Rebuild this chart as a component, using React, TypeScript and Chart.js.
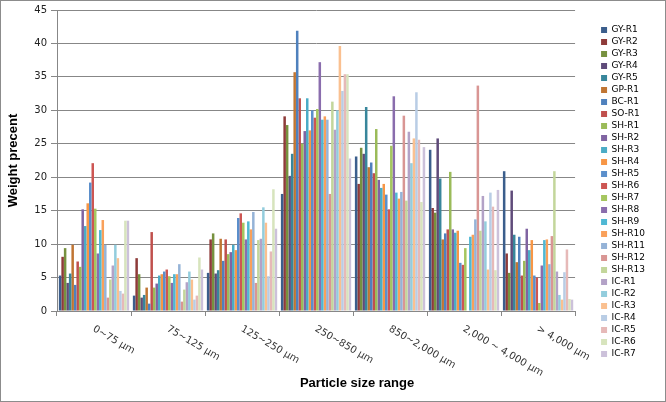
import React, { useEffect, useRef } from "react";
import { Chart, registerables } from "chart.js";

Chart.register(...registerables);

const categories = [
  "0~75 µm",
  "75~125 µm",
  "125~250 µm",
  "250~850 µm",
  "850~2,000 µm",
  "2,000 ~ 4,000 µm",
  "> 4,000 µm",
];

const seriesNames = [
  "GY-R1", "GY-R2", "GY-R3", "GY-R4", "GY-R5", "GP-R1", "BC-R1", "SO-R1",
  "SH-R1", "SH-R2", "SH-R3", "SH-R4", "SH-R5", "SH-R6", "SH-R7", "SH-R8",
  "SH-R9", "SH-R10", "SH-R11", "SH-R12", "SH-R13",
  "IC-R1", "IC-R2", "IC-R3", "IC-R4", "IC-R5", "IC-R6", "IC-R7",
];

const seriesColors = [
  "#3B5E8C", "#8E3B39", "#77913F", "#5F4B7A", "#38869B", "#C07533", "#4F81BD", "#C0504D",
  "#9BBB59", "#8064A2", "#4BACC6", "#F79646", "#5B8FCB", "#CD5653", "#A5C65F", "#8A6DAD",
  "#4FB8D4", "#F9A05A", "#95B3D7", "#D99694", "#C3D69B",
  "#B3A2C7", "#93CDDD", "#FAC090", "#B9CDE5", "#E6B9B8", "#D7E4BD", "#CCC1DA",
];

// Values per series, one per particle size range
const gyR1 = [5.3, 2.3, 5.7, 17.5, 23.1, 24.1, 20.9];
const gyR2 = [8.1, 7.9, 10.7, 29.1, 19.0, 15.4, 8.6];
const gyR3 = [9.4, 5.5, 11.6, 27.8, 24.4, 14.7, 5.7];
const gyR4 = [4.2, 2.0, 5.6, 20.2, 23.5, 25.8, 18.0];
const gyR5 = [5.6, 2.4, 6.1, 23.5, 30.5, 19.8, 11.4];
const gpR1 = [9.9, 3.5, 10.8, 35.7, 21.5, 10.7, 7.3];
const bcR1 = [3.9, 1.1, 7.5, 41.9, 22.2, 11.6, 11.1];
const soR1 = [7.4, 11.8, 10.7, 31.8, 20.6, 12.2, 5.3];
const shR1 = [6.6, 3.5, 8.5, 25.0, 27.2, 20.8, 7.5];
const shR2 = [15.2, 4.1, 8.8, 26.9, 19.6, 12.2, 12.3];
const shR3 = [12.7, 5.3, 9.9, 31.8, 18.4, 11.7, 9.1];
const shR4 = [16.1, 5.5, 9.1, 27.0, 19.0, 12.0, 10.6];
const shR5 = [19.2, 5.9, 13.9, 30.0, 17.4, 7.2, 5.3];
const shR6 = [22.1, 6.2, 14.6, 28.9, 15.2, 6.9, 5.0];
const shR7 = [15.3, 5.2, 13.2, 30.2, 24.7, 9.4, 1.2];
const shR8 = [8.6, 4.2, 10.7, 37.2, 32.1, 0, 6.8];
const shR9 = [12.1, 5.5, 13.4, 28.6, 17.7, 11.1, 10.6];
const shR10 = [13.6, 5.5, 12.2, 29.1, 16.8, 11.4, 10.7];
const shR11 = [9.9, 7.0, 14.8, 28.6, 17.8, 13.7, 7.0];
const shR12 = [2.0, 1.4, 4.2, 17.5, 29.2, 33.7, 11.2];
const shR13 = [4.7, 3.2, 10.6, 31.3, 16.5, 12.0, 20.9];
const icR1 = [6.8, 4.3, 10.8, 27.1, 26.8, 17.2, 5.9];
const icR2 = [9.9, 5.9, 15.5, 30.0, 22.1, 13.4, 2.4];
const icR3 = [7.9, 4.7, 13.2, 39.6, 25.8, 6.2, 1.7];
const icR4 = [3.0, 1.7, 5.2, 32.9, 32.7, 17.7, 5.8];
const icR5 = [2.6, 2.3, 8.9, 35.4, 25.6, 15.6, 9.2];
const icR6 = [13.5, 8.0, 18.2, 35.4, 16.3, 6.1, 1.8];
const icR7 = [13.5, 6.2, 12.3, 22.8, 24.5, 18.1, 1.7];

const seriesValues = [
  gyR1, gyR2, gyR3, gyR4, gyR5, gpR1, bcR1, soR1,
  shR1, shR2, shR3, shR4, shR5, shR6, shR7, shR8, shR9, shR10, shR11, shR12, shR13,
  icR1, icR2, icR3, icR4, icR5, icR6, icR7,
];

const yTicks = { min: 0, max: 45, step: 5 };
const yTitle = "Weight precent";
const xTitle = "Particle size range";

const GRID = "#878787";

const framePlugin = {
  id: "frame",
  beforeDraw(chart: any) {
    const { ctx, width, height } = chart;
    ctx.save();
    ctx.fillStyle = "#ffffff";
    ctx.fillRect(0, 0, width, height);
    ctx.restore();
  },
  afterDraw(chart: any) {
    const { ctx, width, height, chartArea } = chart;
    const xs = chart.scales.x;
    ctx.save();
    ctx.strokeStyle = "#8c8c8c";
    ctx.lineWidth = 1;
    ctx.strokeRect(0.5, 0.5, width - 1, height - 1);
    // rotated category labels
    ctx.font = "10px 'DejaVu Sans'";
    ctx.fillStyle = "#333333";
    ctx.textAlign = "left";
    ctx.textBaseline = "top";
    categories.forEach((label, i) => {
      const x = xs.getPixelForTick(i);
      ctx.save();
      ctx.translate(x + 2, chartArea.bottom + 13);
      ctx.rotate(Math.PI / 6);
      ctx.fillText(label, 0, 0);
      ctx.restore();
    });
    // x title
    ctx.font = "bold 13px 'Liberation Sans'";
    ctx.fillStyle = "#000000";
    ctx.textAlign = "center";
    ctx.textBaseline = "middle";
    ctx.fillText(xTitle, (chartArea.left + chartArea.right) / 2 + 41, chartArea.bottom + 72);
    ctx.restore();
  },
};

export default function App() {
  const ref = useRef<HTMLCanvasElement | null>(null);
  useEffect(() => {
    if (!ref.current) return;
    const chart = new Chart(ref.current, {
      type: "bar",
      data: {
        labels: categories,
        datasets: seriesNames.map((name, i) => ({
          label: name,
          data: seriesValues[i],
          backgroundColor: seriesColors[i],
          borderWidth: 0,
          categoryPercentage: 0.95,
          barPercentage: 1.0,
        })),
      },
      options: {
        responsive: false,
        animation: false,
        devicePixelRatio: 1,
        layout: { padding: { top: 10, bottom: 28, left: 0, right: 11 } },
        plugins: {
          legend: {
            position: "right",
            align: "center",
            labels: {
              boxWidth: 6,
              boxHeight: 6,
              padding: 3,
              color: "#000000",
              font: { family: "'DejaVu Sans'", size: 9 },
            },
          },
          tooltip: { enabled: false },
        },
        scales: {
          x: {
            grid: {
              offset: true,
              drawOnChartArea: false,
              drawTicks: true,
              tickLength: 5,
              color: GRID,
            },
            border: { color: GRID },
            ticks: { display: false },
            afterFit(s: any) {
              s.height = 63;
            },
          },
          y: {
            min: yTicks.min,
            max: yTicks.max,
            ticks: {
              stepSize: yTicks.step,
              color: "#222222",
              padding: 4,
              font: { family: "'DejaVu Sans'", size: 10 },
            },
            grid: { color: GRID, tickLength: 6 },
            border: { color: GRID },
            title: {
              display: true,
              text: yTitle,
              color: "#000000",
              font: { family: "'Liberation Sans'", size: 13, weight: "bold" },
              padding: { top: 6, bottom: 0 },
            },
            afterFit(s: any) {
              s.width = 57;
            },
          },
          gap: {
            position: "right",
            display: true,
            grid: { display: false, drawTicks: false },
            border: { display: false },
            ticks: { display: false },
            afterFit(s: any) {
              s.width = 23;
            },
          },
        },
      },
      plugins: [framePlugin],
    } as any);
    return () => chart.destroy();
  }, []);
  return (
    <div style={{ position: "fixed", left: 0, top: 0, width: 666, height: 402 }}>
      <canvas ref={ref} width={666} height={402} style={{ display: "block" }} />
    </div>
  );
}
